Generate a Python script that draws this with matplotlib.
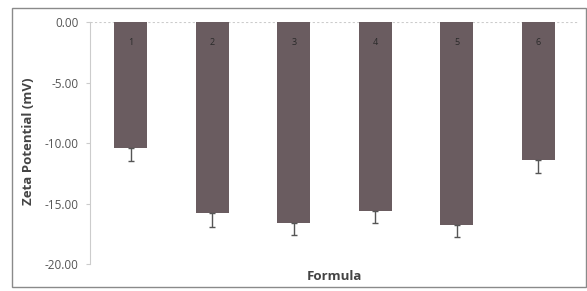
import matplotlib
matplotlib.use("Agg")
import matplotlib.pyplot as plt
from matplotlib.patches import Rectangle

formulas = ["1", "2", "3", "4", "5", "6"]
zeta = [-10.4, -15.75, -16.6, -15.65, -16.75, -11.4]
err = [1.1, 1.2, 1.0, 1.0, 1.05, 1.1]
yticks = [0, -5, -10, -15, -20]

plt.rcParams['font.family'] = ['Open Sans', 'DejaVu Sans']

fig = plt.figure(figsize=(5.87, 2.91), dpi=100)
fig.patch.set_facecolor('white')
# outer frame
fig.patches.append(Rectangle((12/587, 1-287/291), (586-12)/587, (287-8)/291,
                             transform=fig.transFigure, fill=False,
                             edgecolor='#8a8a8a', linewidth=1.0))

ax = fig.add_axes([90/587, 1-264/291, (579-90)/587, (264-22)/291])
x = list(range(len(formulas)))
bar_color = '#6a5c60'
ax.bar(x, zeta, width=0.4, color=bar_color, zorder=2)
ax.errorbar(x, zeta, yerr=[err, [0]*len(err)], fmt='none', ecolor='#555555',
            elinewidth=1.0, capsize=2.5, capthick=1.0, zorder=3)
for xi, lab in zip(x, formulas):
    ax.text(xi, -1.7, lab, ha='center', va='center', fontsize=6.5, color='#2a2a2a', zorder=4)

ax.set_xlim(-0.5, len(formulas) - 0.5)
ax.set_ylim(-20, 0)
ax.set_yticks(yticks)
ax.set_yticklabels([f"{v:.2f}" for v in yticks], fontsize=8.5, color='#555555')
ax.set_xticks([])
ax.axhline(0, color='#cccccc', linewidth=0.8, linestyle=(0, (2, 2)), zorder=1)
for s in ['top', 'right', 'bottom']:
    ax.spines[s].set_visible(False)
ax.spines['left'].set_color('#cccccc')
ax.spines['left'].set_linewidth(0.8)
ax.tick_params(axis='y', length=3, color='#cccccc', pad=5)
ax.set_ylabel("Zeta Potential (mV)", fontsize=9.5, fontweight='bold', color='#444444')
ax.set_xlabel("Formula", fontsize=9.5, fontweight='bold', color='#444444')
ax.yaxis.set_label_coords(-0.112, 0.506)
ax.xaxis.set_label_coords(0.5, -0.025)

fig.savefig("out.png", dpi=100, facecolor='white')
